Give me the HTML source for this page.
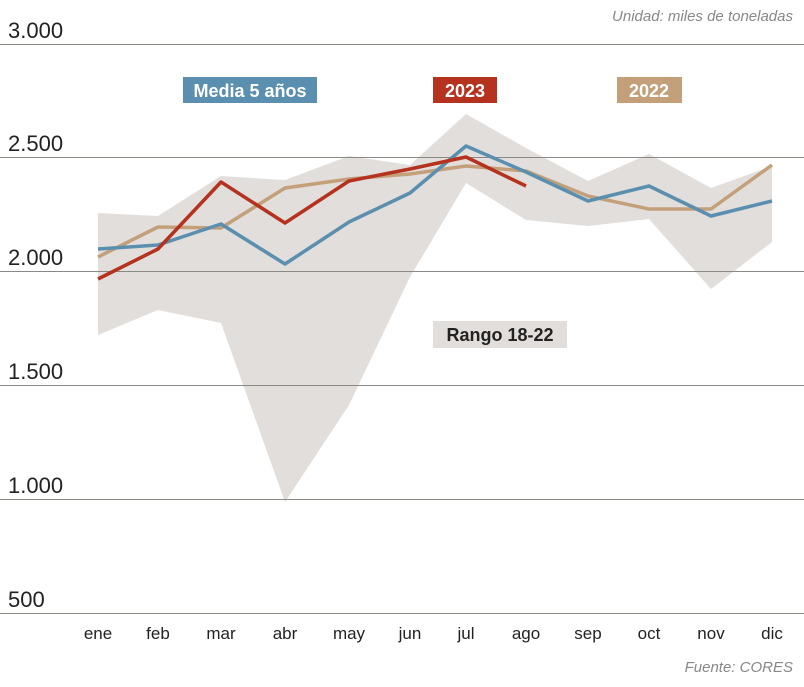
<!DOCTYPE html>
<html><head><meta charset="utf-8"><style>
body{margin:0;background:#fff}
svg{display:block;font-family:"Liberation Sans",sans-serif}
</style></head><body>
<svg width="804" height="687" viewBox="0 0 804 687">
<polygon fill="#e2dedb" points="98,213 158,216 221,176 285,180 349,156 410,165 466,114 526,148 588,181 649,154 711,188 772,166 772,242 711,289 649,219 588,226 526,220 466,183 410,277 349,405 285,502 221,323 158,310 98,335"/>
<g stroke="#8a8a84" stroke-width="1">
<line x1="0" y1="44.5" x2="804" y2="44.5"/>
<line x1="0" y1="157.5" x2="804" y2="157.5"/>
<line x1="0" y1="271.5" x2="804" y2="271.5"/>
<line x1="0" y1="385.5" x2="804" y2="385.5"/>
<line x1="0" y1="499.5" x2="804" y2="499.5"/>
<line x1="0" y1="613.5" x2="804" y2="613.5"/>
</g>
<g font-size="22" fill="#222">
<text x="8" y="38">3.000</text>
<text x="8" y="151">2.500</text>
<text x="8" y="265">2.000</text>
<text x="8" y="379">1.500</text>
<text x="8" y="493">1.000</text>
<text x="8" y="607">500</text>
</g>
<g font-size="17" fill="#222" text-anchor="middle">
<text x="98" y="639">ene</text><text x="158" y="639">feb</text><text x="221" y="639">mar</text><text x="285" y="639">abr</text><text x="349" y="639">may</text><text x="410" y="639">jun</text><text x="466" y="639">jul</text><text x="526" y="639">ago</text><text x="588" y="639">sep</text><text x="649" y="639">oct</text><text x="711" y="639">nov</text><text x="772" y="639">dic</text>
</g>
<text x="793" y="21" font-size="15" font-style="italic" fill="#888" text-anchor="end">Unidad: miles de toneladas</text>
<text x="793" y="672" font-size="15" font-style="italic" fill="#888" text-anchor="end">Fuente: CORES</text>
<g fill="none" stroke-width="3.5" stroke-linejoin="round">
<polyline stroke="#c4a07a" points="98,257 158,227 221,228 285,188 349,179 410,174 466,166 526,171 588,196 649,209 711,209 772,165"/>
<polyline stroke="#5b8fb0" points="98,249 158,245 221,224 285,264 349,222 410,193 466,146 526,172 588,201 649,186 711,216 772,201"/>
<polyline stroke="#b5321e" points="98,279 158,249 221,182 285,223 349,181 410,169 466,157 526,186"/>
</g>
<rect x="183" y="77" width="134" height="26" fill="#5b8fb0"/>
<text x="250" y="97" font-size="18" font-weight="bold" fill="#fff" text-anchor="middle">Media 5 años</text>
<rect x="433" y="77" width="64" height="26" fill="#b5321e"/>
<text x="465" y="97" font-size="18" font-weight="bold" fill="#fff" text-anchor="middle">2023</text>
<rect x="617" y="77" width="65" height="26" fill="#c4a07a"/>
<text x="649" y="97" font-size="18" font-weight="bold" fill="#fff" text-anchor="middle">2022</text>
<rect x="433" y="321" width="134" height="27" fill="#e2dedb"/>
<text x="500" y="341" font-size="18" font-weight="bold" fill="#222" text-anchor="middle">Rango 18-22</text>
</svg>
</body></html>
